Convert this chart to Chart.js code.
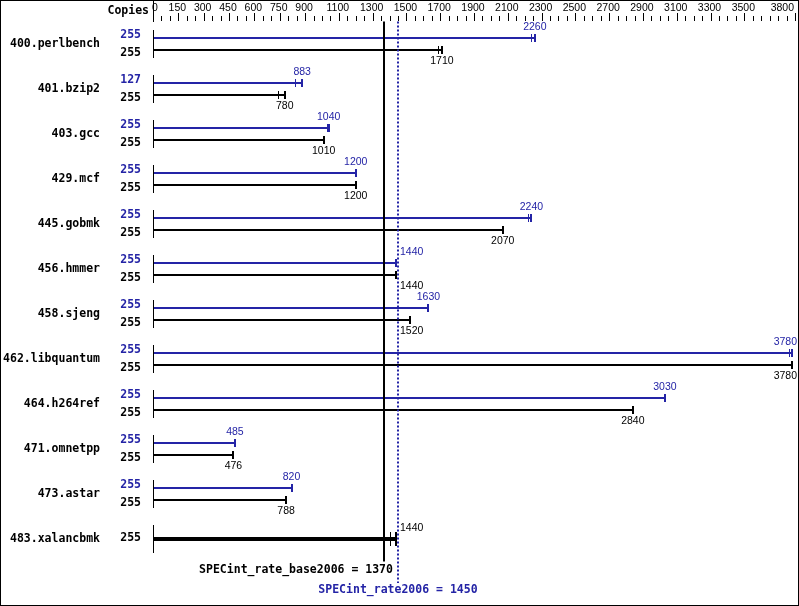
<!DOCTYPE html>
<html><head><meta charset="utf-8">
<script src="https://cdn.jsdelivr.net/npm/chart.js@4"></script>
<style>html,body{margin:0;padding:0;background:#fff}canvas{display:block}</style>
</head><body>
<canvas id="c" width="799" height="606"></canvas>
<script>
// ---- data ----
const benchmarks = ['400.perlbench','401.bzip2','403.gcc','429.mcf','445.gobmk','456.hmmer','458.sjeng','462.libquantum','464.h264ref','471.omnetpp','473.astar','483.xalancbmk'];
const peakCopies = [255,127,255,255,255,255,255,255,255,255,255,null];
const baseCopies = [255,255,255,255,255,255,255,255,255,255,255,255];
const peakRatio  = [2260,883,1040,1200,2240,1440,1630,3780,3030,485,820,null];
const baseRatio  = [1710,780,1010,1200,2070,1440,1520,3780,2840,476,788,1440];
const peakOtherRuns = [2235,840,1030,null,2220,null,null,3765,null,null,null,null];
const baseOtherRuns = [1685,740,null,null,null,1430,null,null,null,null,null,1405];
const tickLabels = [0,150,300,450,600,750,900,1100,1300,1500,1700,1900,2100,2300,2500,2700,2900,3100,3300,3500,3800];
const minorStep = 50;
const axisMax = 3800;
const baseScore = 1370;
const peakScore = 1450;
const baseScoreText = 'SPECint_rate_base2006 = 1370';
const peakScoreText = 'SPECint_rate2006 = 1450';
const headerText = 'Copies';

const BLUE = '#2424a6';
const BLACK = '#000000';
const MONO = 'bold 11.5px "DejaVu Sans Mono"';
const SMALL = '10.5px "Liberation Sans"';

const overlay = {
  id: 'overlay',
  afterDatasetsDraw(chart) {
    const ctx = chart.ctx, area = chart.chartArea;
    const xs = chart.scales.x, ys = chart.scales.y;
    const left = Math.floor(area.left);
    ctx.save();
    // header separator
    ctx.fillStyle = BLACK;
    ctx.fillRect(left, 0, 1, Math.ceil(area.top));
    // axis tick marks
    for (let v = 0; v <= axisMax; v += minorStep) {
      const px = Math.round(xs.getPixelForValue(v));
      const major = tickLabels.includes(v);
      ctx.fillRect(px, major ? 13 : 16, 1, major ? 8 : 5);
    }
    // group axis segments
    benchmarks.forEach((b, i) => {
      const c = Math.round(ys.getPixelForValue(i));
      ctx.fillRect(left, c - 14, 1, 28);
    });
    // caps
    [0, 1].forEach(di => {
      const meta = chart.getDatasetMeta(di);
      const vals = chart.data.datasets[di].data;
      const others = di === 0 ? peakOtherRuns : baseOtherRuns;
      ctx.fillStyle = di === 0 ? BLUE : BLACK;
      meta.data.forEach((bar, i) => {
        if (vals[i] == null) return;
        const capH = bar.height * 3 + 2;
        ctx.fillRect(Math.round(bar.x) - 1, bar.y - capH / 2, 2, capH);
        if (others[i] != null) {
          const ox = Math.round(xs.getPixelForValue(others[i]));
          ctx.fillRect(ox, bar.y - capH / 2, 1, capH);
        }
      });
    });
    // score lines
    const bx = xs.getPixelForValue(baseScore);
    const px = xs.getPixelForValue(peakScore);
    ctx.fillStyle = BLACK;
    ctx.fillRect(Math.round(bx) - 1, area.top, 2, area.bottom - area.top);
    ctx.strokeStyle = BLUE;
    ctx.lineWidth = 2;
    ctx.setLineDash([2, 2]);
    ctx.beginPath();
    ctx.moveTo(Math.round(px), area.top);
    ctx.lineTo(Math.round(px), area.bottom + 21.5);
    ctx.stroke();
    ctx.setLineDash([]);

    // value labels
    ctx.font = SMALL;
    ctx.textBaseline = 'middle';
    ctx.textAlign = 'left';
    const cw = chart.width;
    [0, 1].forEach(di => {
      const meta = chart.getDatasetMeta(di);
      const vals = chart.data.datasets[di].data;
      meta.data.forEach((bar, i) => {
        if (vals[i] == null) return;
        const txt = String(vals[i]);
        const w = ctx.measureText(txt).width;
        let l = bar.x - w / 2;
        if (l < px + 2 && l + w > bx - 2) l = px + 2;
        if (l + w > cw - 2) l = cw - 2 - w;
        let y;
        if (di === 0) { ctx.fillStyle = BLUE; y = bar.y - 10.5; }
        else { ctx.fillStyle = BLACK; y = peakRatio[i] == null ? bar.y - 11 : bar.y + 11; }
        ctx.fillText(txt, l, y);
      });
    });

    // copies
    ctx.font = MONO;
    ctx.textAlign = 'right';
    const pm = chart.getDatasetMeta(0), bm = chart.getDatasetMeta(1);
    benchmarks.forEach((b, i) => {
      if (peakCopies[i] != null) {
        ctx.fillStyle = BLUE;
        ctx.fillText(String(peakCopies[i]), left - 12, pm.data[i].y - 2.5);
        ctx.fillStyle = BLACK;
        ctx.fillText(String(baseCopies[i]), left - 12, bm.data[i].y + 3);
      } else {
        ctx.fillStyle = BLACK;
        ctx.fillText(String(baseCopies[i]), left - 12, bm.data[i].y - 0.5);
      }
    });
    // header
    ctx.fillStyle = BLACK;
    ctx.fillText(headerText, left - 4, 11);
    // scores
    ctx.fillText(baseScoreText, bx + 8.5, area.bottom + 8.5);
    ctx.textAlign = 'center';
    ctx.fillStyle = BLUE;
    ctx.fillText(peakScoreText, px, area.bottom + 29);
    // border
    ctx.strokeStyle = BLACK;
    ctx.lineWidth = 1;
    ctx.strokeRect(0.5, 0.5, cw - 1, chart.height - 1);
    ctx.restore();
  }
};

new Chart(document.getElementById('c'), {
  type: 'bar',
  data: {
    labels: benchmarks,
    datasets: [
      { label: 'peak', data: peakRatio, backgroundColor: BLUE, borderWidth: 0, categoryPercentage: 24/45, barPercentage: 1/6, skipNull: true },
      { label: 'base', data: baseRatio, backgroundColor: BLACK, borderWidth: 0, categoryPercentage: 24/45, barPercentage: 1/6, skipNull: true }
    ]
  },
  options: {
    indexAxis: 'y',
    responsive: false,
    animation: false,
    events: [],
    layout: { padding: { left: 0, right: 4, top: 0, bottom: 44.5 } },
    plugins: { legend: { display: false }, tooltip: { enabled: false } },
    scales: {
      x: {
        type: 'linear', position: 'top', min: 0, max: axisMax,
        grid: { display: false, drawTicks: true, tickLength: 7.5 },
        border: { display: false },
        afterBuildTicks: s => { s.ticks = tickLabels.map(v => ({ value: v })); },
        afterFit: s => { s.height = 21.5; },
        ticks: { autoSkip: false, maxRotation: 0, minRotation: 0, align: 'inner', padding: 0, labelOffset: -1,
          color: BLACK, font: { family: 'Liberation Sans', size: 10.5, lineHeight: 1.2 },
          callback: v => String(v) }
      },
      y: {
        type: 'category', position: 'left', offset: true,
        grid: { display: false, drawTicks: true, tickLength: 53 },
        border: { display: false },
        afterFit: s => { s.width = 153; },
        ticks: { autoSkip: false, padding: 0, color: BLACK,
          font: { family: 'DejaVu Sans Mono', weight: 'bold', size: 11.5 } }
      }
    }
  },
  plugins: [overlay]
});
</script>
</body></html>
